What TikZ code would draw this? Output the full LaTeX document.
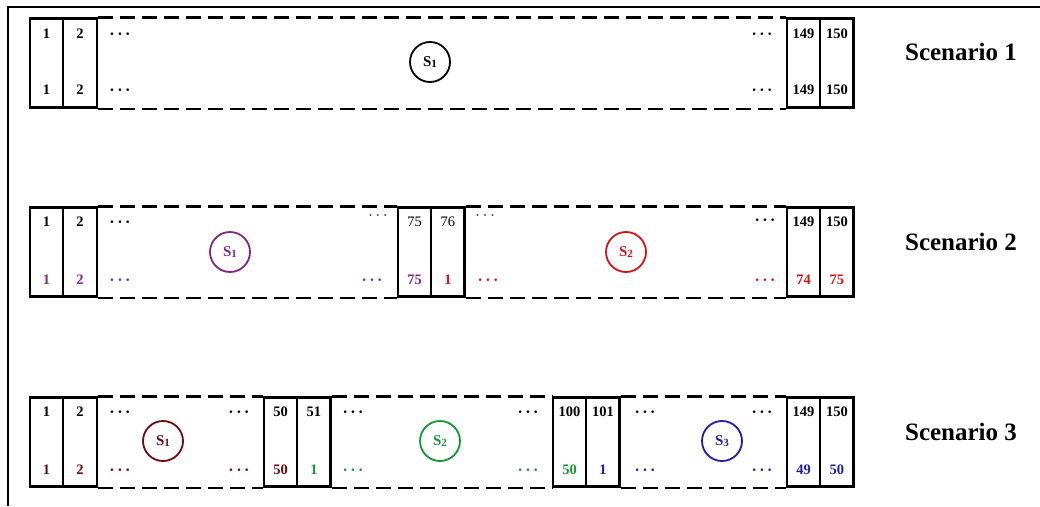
\documentclass[tikz,border=0pt]{standalone}
\usepackage{fontspec}
\setmainfont{Liberation Serif}
\usetikzlibrary{positioning}
\definecolor{scpurple}{RGB}{128,40,128}
\definecolor{scred}{RGB}{210,20,20}
\definecolor{scmaroon}{RGB}{110,10,10}
\definecolor{scgreen}{RGB}{20,150,50}
\definecolor{scblue}{RGB}{30,30,170}

\tikzset{
  cell/.style={draw, line width=2.2pt, minimum width=33.3pt, minimum height=89pt, inner sep=0pt},
  num/.style={font=\fontsize{14.5}{14.5}\selectfont\bfseries, inner sep=0pt},
  dotsym/.style={font=\fontsize{16}{16}\selectfont\bfseries, inner sep=0pt, yshift=-2pt},
  gap/.style={line width=2.2pt, dash pattern=on 15pt off 7pt},
  sub/.style={draw, circle, line width=1.8pt, minimum size=40pt, inner sep=0pt, font=\fontsize{15}{15}\selectfont\bfseries},
  scenlabel/.style={font=\fontsize{25}{25}\selectfont\bfseries}
}
\newcommand{\sidx}[1]{S\raisebox{-0.5pt}{\fontsize{11}{11}\selectfont #1}}
\newcommand{\tdots}{·\hspace{2.5pt}·\hspace{2.5pt}·}

\begin{document}
\begin{tikzpicture}[x=1pt, y=-1pt]
  \useasboundingbox (0,0) rectangle (1040,506);
  \draw[line width=1.4pt] (1040,7) -- (8,7) -- (8,506);

  % Scenario 1
  \foreach \id/\x/\tp/\bt/\col in {a/46.6/1/1/black, b/80/2/2/black, y/803.6/149/149/black, z/836.9/150/150/black} {
    \node[cell] (r1\id) at (\x,63) {};
    \node[num] (r1\id-t) at (\x,34) {\tp};
    \node[num, text=\col] (r1\id-b) at (\x,90) {\bt};
  }
  \draw[gap] (r1b.north east) -- (r1y.north west);
  \draw[gap] (r1b.south east) -- (r1y.south west);
  \foreach \id/\x/\y/\col in {1/120/34/black, 2/120/90/black, 3/762/34/black, 4/762/90/black}
    \node[dotsym, text=\col] (r1d\id) at (\x,\y) {\tdots};
  \node[sub] (r1s1) at (430,62) {\sidx{1}};
  \node[scenlabel] (scen1) at (961,52) {Scenario 1};

  % Scenario 2
  \foreach \id/\x/\tp/\bt/\col in {a/46.6/1/1/scpurple, b/80/2/2/scpurple, m/414.6/{\mdseries 75}/75/scpurple,
      n/447.9/{\mdseries 76}/1/scred, y/803.6/149/74/scred, z/836.9/150/75/scred} {
    \node[cell] (r2\id) at (\x,252) {};
    \node[num] (r2\id-t) at (\x,222) {\tp};
    \node[num, text=\col] (r2\id-b) at (\x,280) {\bt};
  }
  \draw[gap] (r2b.north east) -- (r2m.north west);
  \draw[gap] (r2b.south east) -- (r2m.south west);
  \draw[gap] (r2n.north east) -- (r2y.north west);
  \draw[gap] (r2n.south east) -- (r2y.south west);
  \foreach \id/\x/\y/\col in {1/120/222/black, 2/120/280/scpurple, 4/372/280/scpurple,
      6/488/280/scred, 7/765/220/black, 8/765/280/scred}
    \node[dotsym, text=\col] (r2d\id) at (\x,\y) {\tdots};
  \foreach \id/\x/\y in {3/378/216, 5/485/216}
    \node[dotsym, font=\fontsize{15}{15}\selectfont\mdseries, text=black!85] (r2d\id) at (\x,\y) {\tdots};
  \node[sub, draw=scpurple, text=scpurple] (r2s1) at (230,252) {\sidx{1}};
  \node[sub, draw=scred, text=scred] (r2s2) at (626,252) {\sidx{2}};
  \node[scenlabel] (scen2) at (961,242) {Scenario 2};

  % Scenario 3
  \foreach \id/\x/\tp/\bt/\col in {a/46.6/1/1/scmaroon, b/80/2/2/scmaroon, k/280.6/50/50/scmaroon, l/313.9/51/1/scgreen,
      m/569.6/100/50/scgreen, n/602.9/101/1/scblue, y/803.6/149/49/scblue, z/836.9/150/50/scblue} {
    \node[cell] (r3\id) at (\x,442) {};
    \node[num] (r3\id-t) at (\x,412) {\tp};
    \node[num, text=\col] (r3\id-b) at (\x,470) {\bt};
  }
  \draw[gap] (r3b.north east) -- (r3k.north west);
  \draw[gap] (r3b.south east) -- (r3k.south west);
  \draw[gap] (r3l.north east) -- (r3m.north west);
  \draw[gap] (r3l.south east) -- (r3m.south west);
  \draw[gap] (r3n.north east) -- (r3y.north west);
  \draw[gap] (r3n.south east) -- (r3y.south west);
  \foreach \id/\x/\y/\col in {1/120/412/black, 2/120/470/scmaroon, 3/239/412/black, 4/239/470/scmaroon,
      5/353/412/black, 6/353/470/scgreen, 7/528/412/black, 8/528/470/scgreen,
      9/645/412/black, 10/645/470/scblue, 11/762/412/black, 12/762/470/scblue}
    \node[dotsym, text=\col] (r3d\id) at (\x,\y) {\tdots};
  \node[sub, draw=scmaroon, text=scmaroon] (r3s1) at (163,441) {\sidx{1}};
  \node[sub, draw=scgreen, text=scgreen] (r3s2) at (440,441) {\sidx{2}};
  \node[sub, draw=scblue, text=scblue] (r3s3) at (722,441) {\sidx{3}};
  \node[scenlabel] (scen3) at (961,432) {Scenario 3};
\end{tikzpicture}
\end{document}
